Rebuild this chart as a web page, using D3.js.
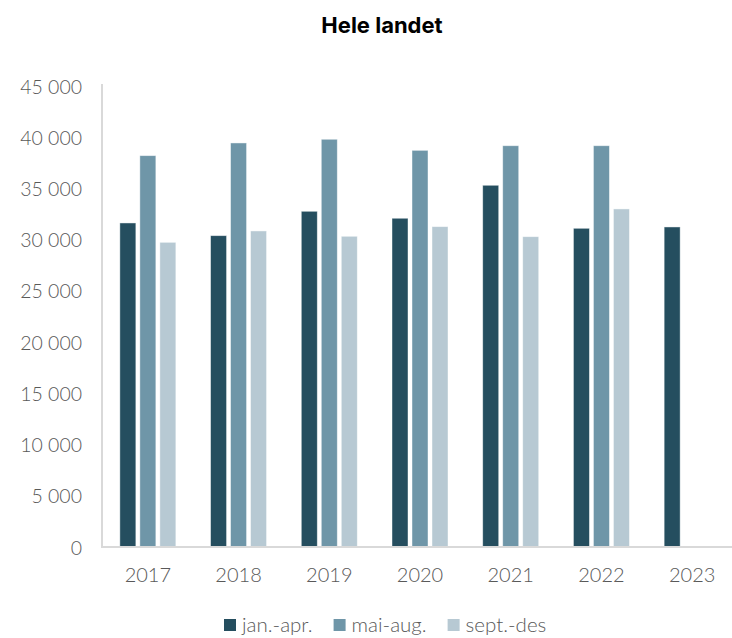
<!DOCTYPE html>
<html>
<head>
<meta charset="utf-8">
<script src="https://cdn.jsdelivr.net/npm/d3@7"></script>
<style>
  html, body { margin: 0; padding: 0; background: #fff; }
  svg { display: block; }
  .tick text, .legend text { font-family: Lato, "Noto Sans", sans-serif; font-weight: 300; fill: #595959; }
</style>
</head>
<body>
<svg id="chart" width="732" height="638"></svg>
<script>
// Periods per year, by four-month term
const years = ["2017", "2018", "2019", "2020", "2021", "2022", "2023"];
const seriesNames = ["jan.-apr.", "mai-aug.", "sept.-des"];
const janApr  = [31630, 30390, 32770, 32090, 35310, 31110, 31240];
const maiAug  = [38200, 39440, 39800, 38720, 39170, 39170, null];
const septDes = [29740, 30850, 30330, 31270, 30290, 33000, null];
const yTicks = [0, 5000, 10000, 15000, 20000, 25000, 30000, 35000, 40000, 45000];
const colors = ["#254e5f", "#6f96a8", "#b7c9d3"];

const seriesValues = [janApr, maiAug, septDes];
const rows = years.map((year, i) => ({
  year,
  values: seriesNames.map((name, s) => ({ name, value: seriesValues[s][i] }))
}));

const svg = d3.select("#chart");

const x = d3.scaleBand().domain(years).range([102.5, 737.5]).padding(0);
const xInner = d3.scaleBand().domain(seriesNames).range([-28, 28]).paddingInner(0.2).paddingOuter(0);
const y = d3.scaleLinear().domain([0, 45000]).range([547, 86]);
const color = d3.scaleOrdinal().domain(seriesNames).range(colors);

const fmt = v => d3.format(",")(v).replace(/,/g, " ");

// Title
svg.append("text")
  .attr("x", 382).attr("y", 33)
  .attr("text-anchor", "middle")
  .style("font-family", "Inter, 'Liberation Sans', sans-serif")
  .style("font-weight", 700)
  .style("font-size", "22px")
  .style("fill", "#000")
  .text("Hele landet");

// Y axis
const yAxis = svg.append("g")
  .attr("transform", "translate(102,0)")
  .call(d3.axisLeft(y).tickValues(yTicks).tickFormat(fmt).tickSize(0).tickPadding(20));
yAxis.select(".domain").attr("stroke", "#d9d9d9").attr("stroke-width", 2)
  .attr("d", `M0,${y(45000) - 2}V${y(0)}`);
yAxis.selectAll(".tick text").style("font-size", "19.5px").attr("dy", "0.36em");

// Bars
const groups = svg.append("g").selectAll("g")
  .data(rows).join("g")
  .attr("transform", d => `translate(${x(d.year) + x.bandwidth() / 2},0)`);

groups.selectAll("rect")
  .data(d => d.values.filter(v => v.value != null))
  .join("rect")
  .attr("x", d => xInner(d.name))
  .attr("width", xInner.bandwidth())
  .attr("y", d => y(d.value))
  .attr("height", d => y(0) - y(d.value))
  .attr("fill", d => color(d.name))
  .attr("stroke", "rgba(255,255,255,0.55)")
  .attr("stroke-width", 0.8);

// X axis
const xAxis = svg.append("g")
  .attr("transform", `translate(0,${y(0)})`)
  .call(d3.axisBottom(x).tickSize(0).tickPadding(21));
xAxis.select(".domain").attr("stroke", "#d9d9d9").attr("stroke-width", 2)
  .attr("d", `M101,0H737.5`);
xAxis.selectAll(".tick text").style("font-size", "20px");

// Legend
const legend = svg.append("g").attr("class", "legend");
let lx = 224;
seriesNames.forEach(name => {
  const item = legend.append("g").attr("transform", `translate(${lx},0)`);
  item.append("rect").attr("x", 0).attr("y", 619).attr("width", 12).attr("height", 12)
    .attr("fill", color(name));
  const t = item.append("text").attr("x", 18).attr("y", 632)
    .style("font-size", "20.5px").text(name);
  lx += 18 + t.node().getComputedTextLength() + 21;
});
</script>
</body>
</html>
